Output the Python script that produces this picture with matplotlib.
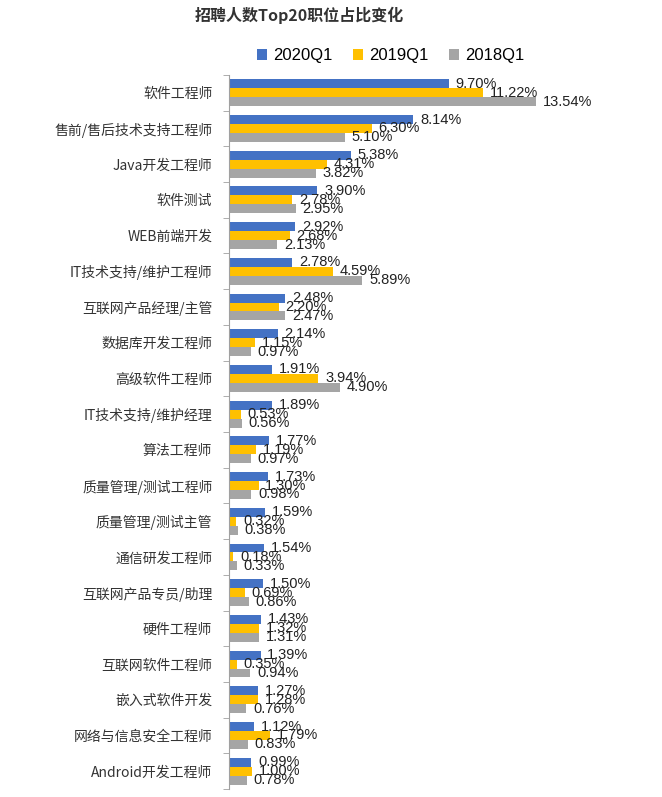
import matplotlib.pyplot as plt
import numpy as np

plt.rcParams["font.family"] = ["Noto Sans CJK SC", "DejaVu Sans"]

categories = [
    "软件工程师", "售前/售后技术支持工程师", "Java开发工程师", "软件测试", "WEB前端开发",
    "IT技术支持/维护工程师", "互联网产品经理/主管", "数据库开发工程师", "高级软件工程师",
    "IT技术支持/维护经理", "算法工程师", "质量管理/测试工程师", "质量管理/测试主管",
    "通信研发工程师", "互联网产品专员/助理", "硬件工程师", "互联网软件工程师",
    "嵌入式软件开发", "网络与信息安全工程师", "Android开发工程师",
]
q2020 = [9.70, 8.14, 5.38, 3.90, 2.92, 2.78, 2.48, 2.14, 1.91, 1.89,
         1.77, 1.73, 1.59, 1.54, 1.50, 1.43, 1.39, 1.27, 1.12, 0.99]
q2019 = [11.22, 6.30, 4.31, 2.78, 2.68, 4.59, 2.20, 1.15, 3.94, 0.53,
         1.19, 1.30, 0.32, 0.18, 0.69, 1.32, 0.35, 1.28, 1.79, 1.00]
q2018 = [13.54, 5.10, 3.82, 2.95, 2.13, 5.89, 2.47, 0.97, 4.90, 0.56,
         0.97, 0.98, 0.38, 0.33, 0.86, 1.31, 0.94, 0.76, 0.83, 0.78]
series = [("2020Q1", q2020, "#4472C4"),
          ("2019Q1", q2019, "#FFC000"),
          ("2018Q1", q2018, "#A5A5A5")]

fig = plt.figure(figsize=(6.62, 7.97), dpi=100)
ax = fig.add_axes([0.346, 0.010, 0.64, 0.896])

y = np.arange(len(categories))
h = 0.25
for i, (name, vals, color) in enumerate(series):
    pos = y + (i - 1) * h
    ax.barh(pos, vals, height=h, color=color, label=name)
    for p, v in zip(pos, vals):
        ax.text(v + 0.3, p, f"{v:.2f}%", va="center", ha="left",
                fontsize=10.5, color="#222222", family=["Liberation Sans"])

ax.set_ylim(len(categories) - 0.5, -0.5)
ax.set_xlim(0, 18.7)
ax.set_yticks(y)
ax.set_yticklabels(categories, fontsize=10, color="#333333")
ax.set_yticks(np.arange(len(categories) + 1) - 0.5, minor=True)
ax.tick_params(axis="y", which="major", length=0, pad=12)
ax.tick_params(axis="y", which="minor", length=4, color="#A0A0A0")
ax.set_xticks([])
for s in ["top", "right", "bottom"]:
    ax.spines[s].set_visible(False)
ax.spines["left"].set_color("#A0A0A0")

fig.text(0.452, 0.981, "招聘人数Top20职位占比变化", ha="center", va="center",
         fontsize=11.5, fontweight="bold", color="#333333")
fig.legend(loc="center", bbox_to_anchor=(0.59, 0.93), ncol=3, frameon=False,
           prop={"family": ["Liberation Sans"], "size": 12},
           handlelength=0.6, handleheight=0.6, handletextpad=0.4,
           columnspacing=1.2)

fig.savefig("out.png", dpi=100)
